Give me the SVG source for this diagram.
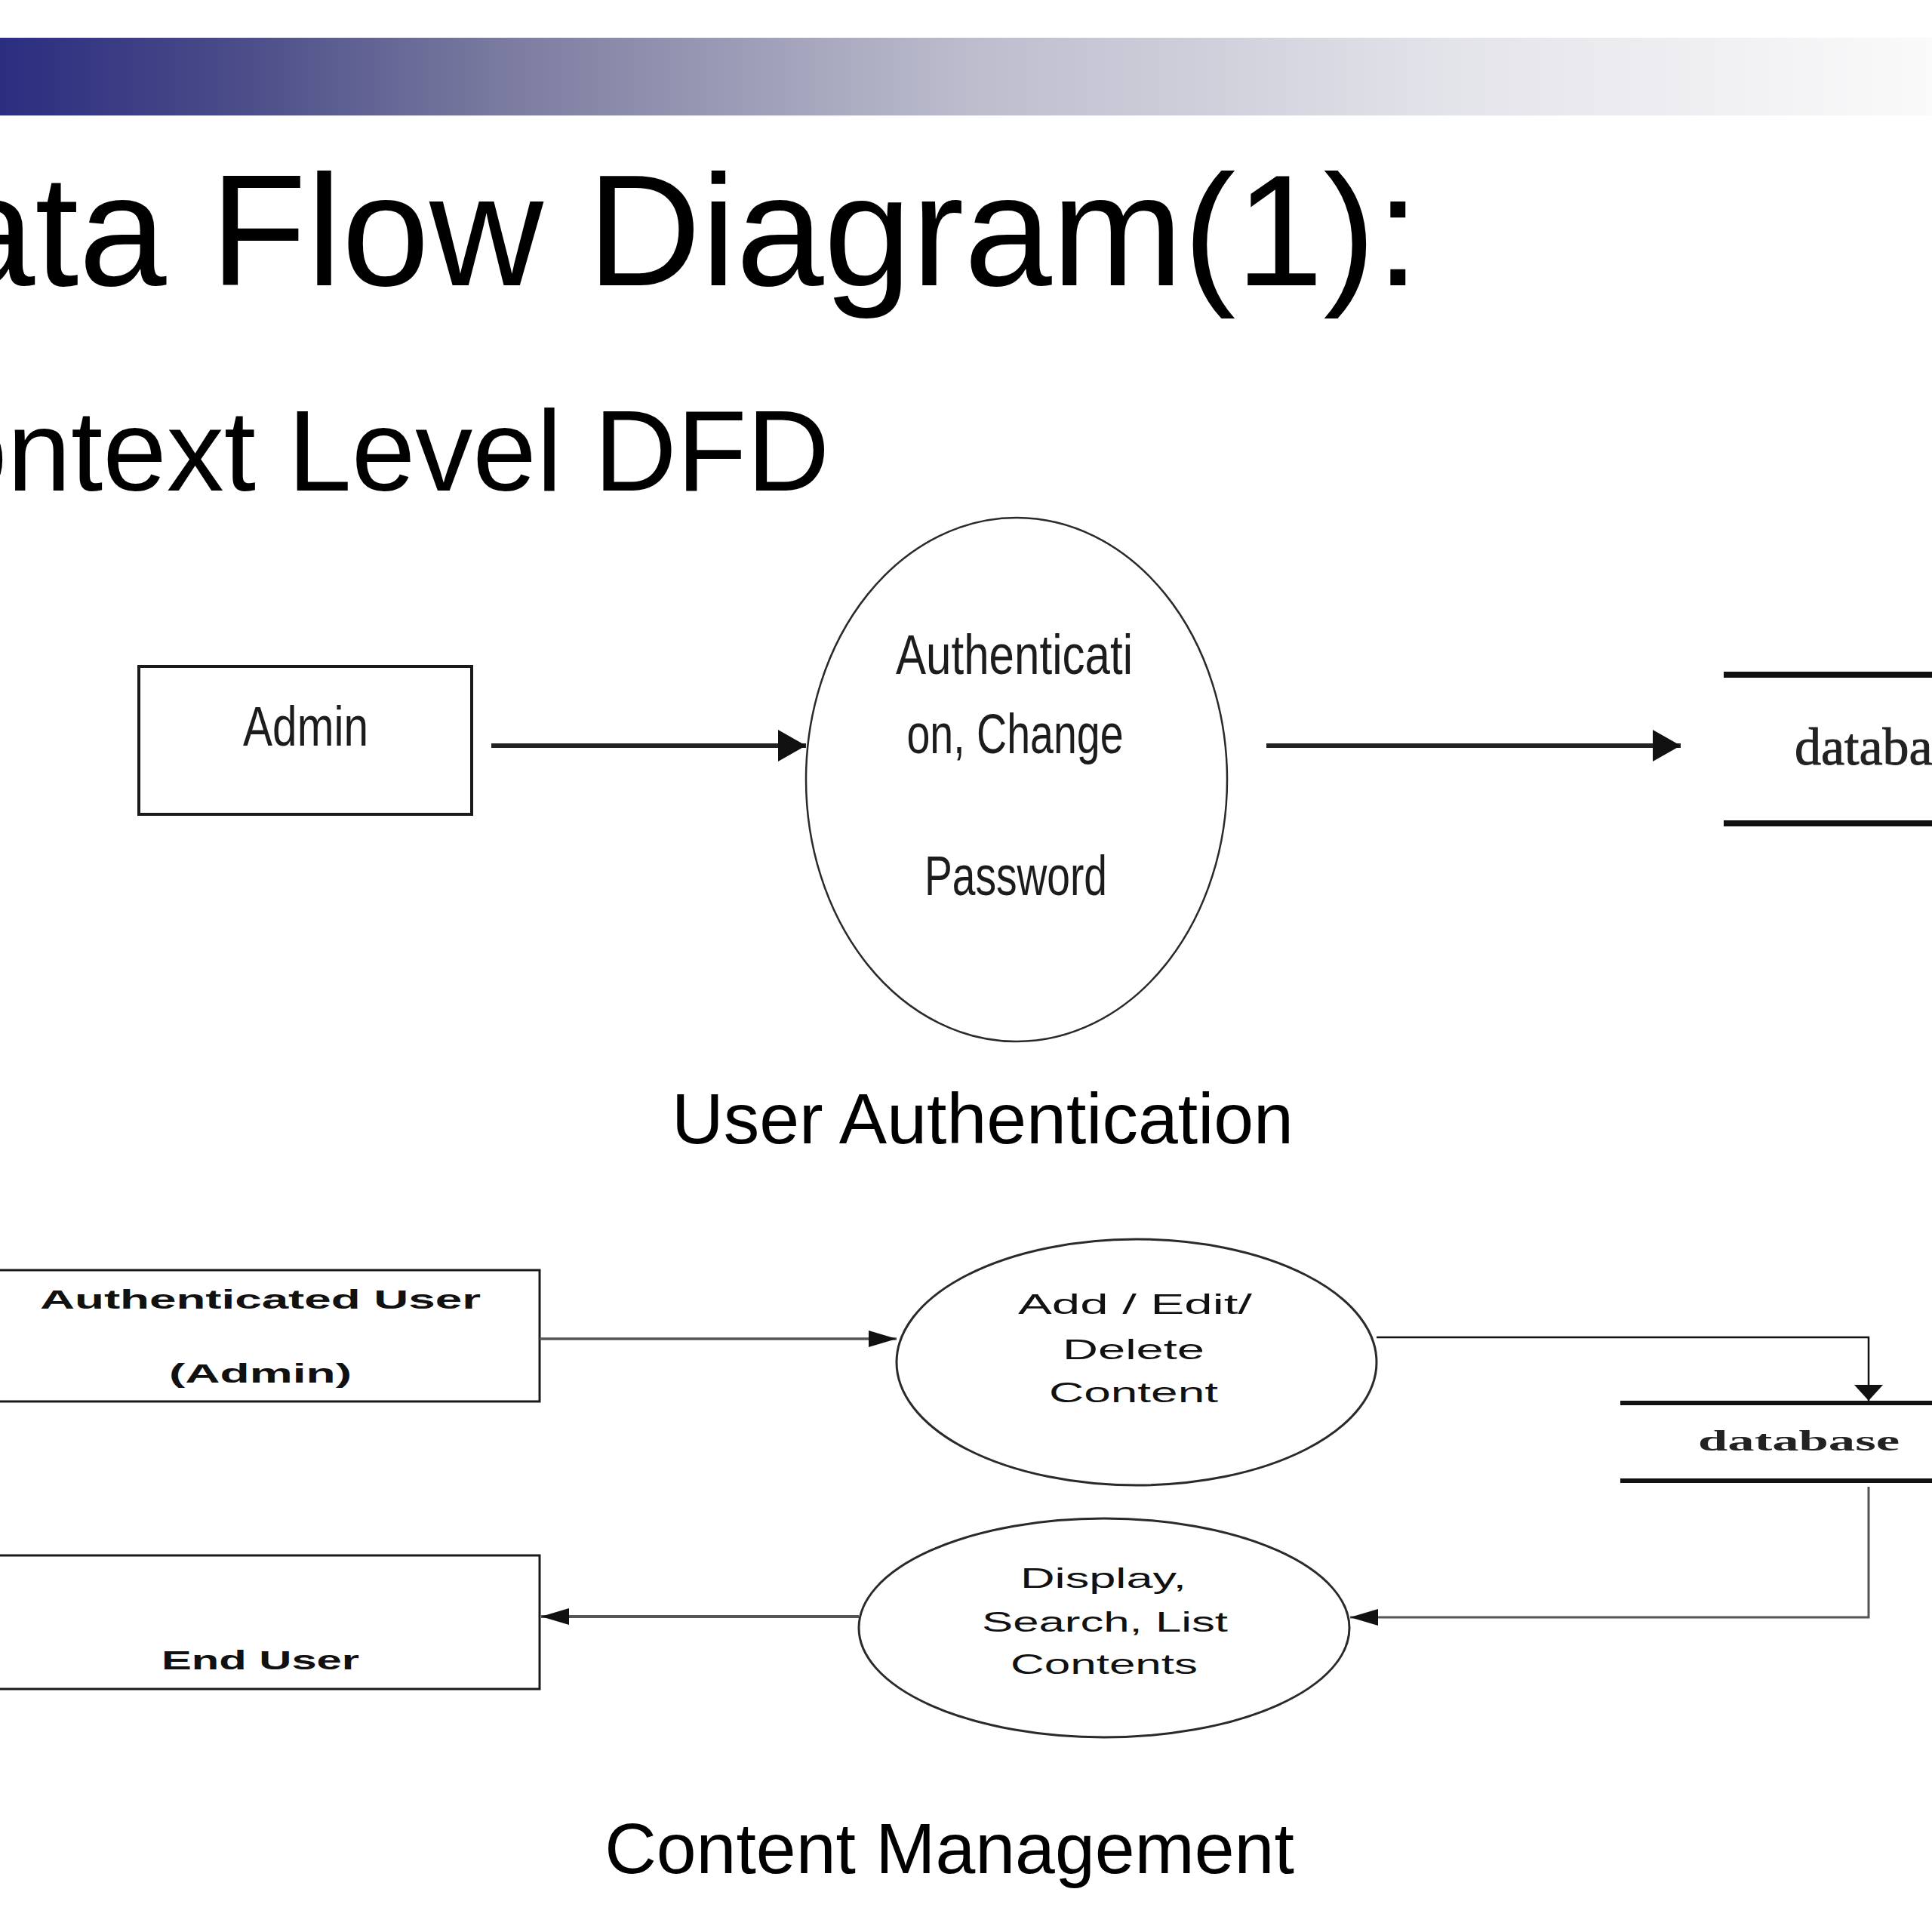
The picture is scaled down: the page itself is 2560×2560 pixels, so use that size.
<svg xmlns="http://www.w3.org/2000/svg" width="2560" height="2560" viewBox="0 0 2560 2560">
  <defs>
    <linearGradient id="bar" x1="0" y1="0" x2="2560" y2="0" gradientUnits="userSpaceOnUse">
      <stop offset="0" stop-color="#2b2d80"/>
      <stop offset="0.12" stop-color="#4a4b88"/>
      <stop offset="0.26" stop-color="#7a7b9f"/>
      <stop offset="0.5" stop-color="#bcbccd"/>
      <stop offset="0.75" stop-color="#e3e3ea"/>
      <stop offset="1" stop-color="#fafafa"/>
    </linearGradient>
    <marker id="ahTop" markerUnits="userSpaceOnUse" markerWidth="38" markerHeight="42" refX="37" refY="21" orient="auto">
      <path d="M0,0 L37,21 L0,42 Z" fill="#111"/>
    </marker>
    <marker id="ahH" markerUnits="userSpaceOnUse" markerWidth="38" markerHeight="22" refX="37" refY="11" orient="auto">
      <path d="M0,0 L37,11 L0,22 Z" fill="#111"/>
    </marker>
    <marker id="ahV" markerUnits="userSpaceOnUse" markerWidth="22" markerHeight="38" refX="21" refY="19" orient="auto">
      <path d="M0,0 L21,19 L0,38 Z" fill="#111"/>
    </marker>
  </defs>
  <style>
    .title { font-family: "Liberation Sans", Arial, sans-serif; fill: #000; }
    .cap { font-family: "Liberation Sans", Arial, sans-serif; font-size: 95px; fill: #000; text-anchor: middle; }
    .lbl { font-family: "Liberation Sans", Arial, sans-serif; font-size: 74px; fill: #1c1c1c; text-anchor: middle; }
    .blbl { font-family: "Liberation Sans", Arial, sans-serif; font-size: 35px; font-weight: bold; fill: #111; text-anchor: middle; }
    .elbl { font-family: "Liberation Sans", Arial, sans-serif; font-size: 36px; fill: #111; text-anchor: middle; }
    .db { font-family: "Liberation Serif", "Times New Roman", serif; fill: #222; }
    .box { fill: #fff; stroke: #1a1a1a; }
    .proc { fill: #fff; stroke: #2a2a2a; }
    .store { stroke: #111; fill: none; }
    .flow { fill: none; stroke-linejoin: miter; }
  </style>

  <rect x="0" y="0" width="2560" height="2560" fill="#fff"/>
  <rect x="0" y="50" width="2560" height="103" fill="url(#bar)"/>

  <text class="title" x="-70" y="378" font-size="209">ata Flow Diagram(1):</text>
  <text class="title" x="-75" y="650" font-size="152">ontext Level DFD</text>

  <!-- Top diagram: User Authentication -->
  <g id="admin">
    <rect class="box" x="184" y="883" width="441" height="196" stroke-width="4"/>
    <text class="lbl" x="405" y="988" textLength="166" lengthAdjust="spacingAndGlyphs">Admin</text>
  </g>
  <g id="auth-process">
    <ellipse class="proc" cx="1347" cy="1033" rx="279" ry="347" stroke-width="2.5"/>
    <text class="lbl" x="1344" y="893" textLength="314" lengthAdjust="spacingAndGlyphs">Authenticati</text>
    <text class="lbl" x="1345" y="998" textLength="287" lengthAdjust="spacingAndGlyphs">on, Change</text>
    <text class="lbl" x="1346" y="1186" textLength="242" lengthAdjust="spacingAndGlyphs">Password</text>
  </g>
  <g id="database-top">
    <line class="store" x1="2284" y1="894" x2="2560" y2="894" stroke-width="8"/>
    <line class="store" x1="2284" y1="1091" x2="2560" y2="1091" stroke-width="8"/>
    <text class="db" x="2378" y="1013" font-size="70" stroke="#222" stroke-width="1">databa</text>
  </g>
  <text class="cap" x="1302" y="1515">User Authentication</text>

  <!-- Bottom diagram: Content Management -->
  <g id="authenticated-user">
    <rect class="box" x="-10" y="1683" width="725" height="174" stroke-width="3"/>
    <text class="blbl" x="345" y="1734" textLength="584" lengthAdjust="spacingAndGlyphs">Authenticated User</text>
    <text class="blbl" x="345" y="1832" textLength="242" lengthAdjust="spacingAndGlyphs">(Admin)</text>
  </g>
  <g id="end-user">
    <rect class="box" x="-10" y="2061" width="725" height="177" stroke-width="3"/>
    <text class="blbl" x="345" y="2212" textLength="262" lengthAdjust="spacingAndGlyphs">End User</text>
  </g>
  <g id="edit-process">
    <ellipse class="proc" cx="1506" cy="1805" rx="318" ry="163" stroke-width="3"/>
    <text class="elbl" x="1504" y="1741" textLength="310" lengthAdjust="spacingAndGlyphs">Add / Edit/</text>
    <text class="elbl" x="1502" y="1801" textLength="188" lengthAdjust="spacingAndGlyphs">Delete</text>
    <text class="elbl" x="1502" y="1858" textLength="224" lengthAdjust="spacingAndGlyphs">Content</text>
  </g>
  <g id="display-process">
    <ellipse class="proc" cx="1463" cy="2157" rx="325" ry="145" stroke-width="3"/>
    <text class="elbl" x="1462" y="2104" textLength="220" lengthAdjust="spacingAndGlyphs">Display,</text>
    <text class="elbl" x="1464" y="2162" textLength="326" lengthAdjust="spacingAndGlyphs">Search, List</text>
    <text class="elbl" x="1463" y="2218" textLength="248" lengthAdjust="spacingAndGlyphs">Contents</text>
  </g>
  <g id="database-bottom">
    <line class="store" x1="2147" y1="1859" x2="2560" y2="1859" stroke-width="6"/>
    <line class="store" x1="2147" y1="1962" x2="2560" y2="1962" stroke-width="6"/>
    <text class="db" x="2250" y="1922" font-size="38" font-weight="bold" textLength="267" lengthAdjust="spacingAndGlyphs">database</text>
  </g>
  <text class="cap" x="1258" y="2482">Content Management</text>

  <g id="connectors">
    <path class="flow" d="M651,988 L1068,988" stroke="#222" stroke-width="6" marker-end="url(#ahTop)"/>
    <path class="flow" d="M1678,988 L2227,988" stroke="#222" stroke-width="6" marker-end="url(#ahTop)"/>
    <path class="flow" d="M715,1774 L1188,1774" stroke="#555" stroke-width="3.5" marker-end="url(#ahH)"/>
    <path class="flow" d="M1824,1772 L2476,1772 L2476,1856" stroke="#111" stroke-width="2.5" marker-end="url(#ahV)"/>
    <path class="flow" d="M2476,1970 L2476,2143 L1789,2143" stroke="#555" stroke-width="3" marker-end="url(#ahH)"/>
    <path class="flow" d="M1138,2142 L717,2142" stroke="#555" stroke-width="4" marker-end="url(#ahH)"/>
  </g>
</svg>
